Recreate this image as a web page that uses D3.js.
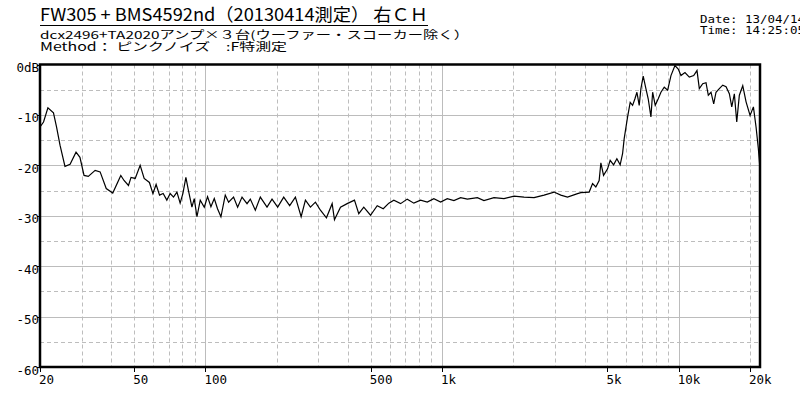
<!DOCTYPE html>
<html>
<head>
<meta charset="utf-8">
<script src="https://cdn.jsdelivr.net/npm/d3@7/dist/d3.min.js"></script>
<style>
  html, body { margin: 0; padding: 0; background: #fff; overflow: hidden; }
  svg { display: block; }
</style>
</head>
<body>
<svg id="chart" width="800" height="400"></svg>
<script>
// ---- data ----
const freqs = [20,20.7,21.6,22.8,23.5,24.3,25.5,26.8,28.4,29.5,30.7,32.0,34.2,35.9,38.1,40.6,43.9,45.3,47.3,48.5,50.5,53.0,55.1,58.0,60.0,61.9,64.0,66.3,68.7,71.0,73.3,75.8,78.2,80.3,82.7,84.8,87.7,89.7,92.1,95.1,98.9,102.1,105.5,109.0,112.5,116.3,121.3,125.3,131.5,136.8,142.8,149.9,
  154.8,162.5,170.6,182.1,191.2,202,214.2,227,240,253.8,264.6,277.8,291.6,306.2,324.6,343.2,351,372.2,397.2,426.4,444.6,466.8,498.4,532,564.2,595.8,625.4,667.8,712.6,760,811,866,923,986,1052,1122,1198,1279,1410,1503,1657,1827,2014,2220,2448,2698,2974,3174,3388,3736,3858,4184,
  4324,4464,4610,4688,4812,5004,5132,5306,5478,5656,5790,5882,6080,6236,6384,6530,6658,6808,6922,7078,7266,7430,7630,7758,7956,8192,8410,8686,8978,9272,9638,9954,10220,10626,11082,11568,11946,12218,12630,13040,13336,13690,14054,14372,14844,15344,15848,16364,16752,17180,17584,18036,18644,19254,20020,20680,21220,21700,22050];
const levels = [-12.4,-11.4,-8.6,-9.6,-12.4,-16.0,-20.2,-19.8,-17.4,-18.4,-22,-22.2,-21,-21.3,-24.6,-25.5,-22,-23,-24,-22.4,-22.6,-20,-22.6,-23.4,-25.6,-23.8,-25.9,-25.6,-26.9,-25.6,-26.3,-25.3,-27.5,-25.6,-22.4,-25,-28.3,-26.6,-30.2,-26.9,-28.3,-26.2,-28.2,-26.6,-28.6,-30.2,-25.9,-27.3,-26.3,-28.3,-26.3,-27.6,
  -26.7,-28.9,-26.3,-28.3,-26.7,-28.3,-26.3,-28,-26.3,-30.2,-26.9,-28.3,-27.3,-28.9,-30.4,-27.6,-30.8,-28.3,-27.6,-26.9,-29.6,-28.3,-29.9,-28,-28.6,-27.5,-26.9,-27.6,-26.7,-27.5,-26.9,-27.3,-26.6,-27.3,-26.6,-27,-26.4,-26.7,-26.4,-27,-26.4,-26.6,-26.1,-26.3,-26.4,-25.9,-25.3,-25.9,-26.3,-25.6,-25.4,-25.3,
  -23.6,-24.3,-23,-19.5,-22,-20.7,-19,-19.9,-18.7,-19.9,-17.7,-14.7,-10.4,-7.5,-8.1,-6.8,-5.5,-8.1,-4.8,-2.3,-4.8,-6.8,-10.4,-5.5,-8.1,-6.8,-5.5,-4.5,-5.1,-2.2,-0.2,-0.9,-2.2,-1.6,-2.5,-2.2,-1.2,-4.8,-3.8,-3.6,-6.1,-5.5,-7.8,-5.5,-4.8,-4.1,-4.4,-5.8,-8.4,-5.8,-11.4,-6.1,-4.2,-7.4,-10.1,-8.4,-12.4,-16.7,-20.7];

const xLabelFreqs = [20, 50, 100, 500, 1000, 5000, 10000, 20000];
const xLabelTexts = ["20", "50", "100", "500", "1k", "5k", "10k", "20k"];
const xSolidGrid = [100, 1000, 10000];
const xDashedGrid = [30,40,50,60,70,80,90,200,300,400,500,600,700,800,900,2000,3000,4000,5000,6000,7000,8000,9000,20000];
const yMajor = [-10, -20, -30, -40, -50];
const yMinor = [-5, -15, -25, -35, -45, -55];
const yLabelValues = [0, -10, -20, -30, -40, -50, -60];
const yLabelTexts = ["0dB", "-10", "-20", "-30", "-40", "-50", "-60"];

const titleText = "FW305 + BMS4592nd（20130414測定） 右ＣＨ";
const subText1 = "dcx2496+TA2020アンプ×３台(ウーファー・スコーカー除く）";
const subText2 = "Method： ピンクノイズ　:F特測定";
const dateText = "Date: 13/04/14";
const timeText = "Time: 14:25:05";

// ---- layout ----
const L = 40, R = 760, T = 64.5, B = 367;
const svg = d3.select("#chart");
const x = d3.scaleLog().domain([20, 22050]).range([L, R]);
const y = d3.scaleLinear().domain([-60, 0]).range([B, T]);

const mono = "'DejaVu Sans Mono', 'Liberation Mono', monospace";
const cjk = "'Noto Sans CJK JP', 'Noto Sans', sans-serif";

// grid
const g = svg.append("g");
g.selectAll(".vd").data(xDashedGrid).join("line")
  .attr("x1", d => Math.round(x(d)) + 0.5).attr("x2", d => Math.round(x(d)) + 0.5)
  .attr("y1", T).attr("y2", B)
  .attr("stroke", "#bdbdbd").attr("stroke-width", 1).attr("stroke-dasharray", "4,3");
g.selectAll(".hd").data(yMinor).join("line")
  .attr("x1", L).attr("x2", R)
  .attr("y1", d => Math.round(y(d)) + 0.5).attr("y2", d => Math.round(y(d)) + 0.5)
  .attr("stroke", "#bdbdbd").attr("stroke-width", 1).attr("stroke-dasharray", "4,3");
g.selectAll(".vs").data(xSolidGrid).join("line")
  .attr("x1", d => Math.round(x(d)) + 0.5).attr("x2", d => Math.round(x(d)) + 0.5)
  .attr("y1", T).attr("y2", B)
  .attr("stroke", "#bcbcbc").attr("stroke-width", 1);
g.selectAll(".hs").data(yMajor).join("line")
  .attr("x1", L).attr("x2", R)
  .attr("y1", d => Math.round(y(d)) + 0.5).attr("y2", d => Math.round(y(d)) + 0.5)
  .attr("stroke", "#bcbcbc").attr("stroke-width", 1);

// curve
const pts = freqs.map((f, i) => [f, levels[i]]);
svg.append("path")
  .datum(pts)
  .attr("fill", "none").attr("stroke", "#000").attr("stroke-width", 1.2)
  .attr("stroke-linejoin", "miter")
  .attr("d", d3.line().x(d => x(d[0])).y(d => y(d[1])));

// frame
svg.append("rect").attr("x", L).attr("y", T).attr("width", R - L).attr("height", B - T)
  .attr("fill", "none").attr("stroke", "#000").attr("stroke-width", 2.5);

// ticks
svg.selectAll(".xt").data(xLabelFreqs).join("line")
  .attr("x1", d => Math.round(x(d)) + 0.5).attr("x2", d => Math.round(x(d)) + 0.5)
  .attr("y1", B).attr("y2", B + 5).attr("stroke", "#000").attr("stroke-width", 1);
svg.selectAll(".yt").data(yLabelValues).join("line")
  .attr("x1", L - 3).attr("x2", L)
  .attr("y1", d => Math.round(y(d)) + 0.5).attr("y2", d => Math.round(y(d)) + 0.5)
  .attr("stroke", "#000").attr("stroke-width", 1);

// axis labels
svg.selectAll(".xl").data(xLabelFreqs).join("text")
  .attr("x", d => x(d) - 1).attr("y", 384)
  .attr("font-family", mono).attr("font-size", 12.5).attr("fill", "#000")
  .text((d, i) => xLabelTexts[i]);
svg.selectAll(".yl").data(yLabelValues).join("text")
  .attr("x", 39).attr("y", d => y(d) + 7.5)
  .attr("text-anchor", "end")
  .attr("font-family", mono).attr("font-size", 12.5).attr("fill", "#000")
  .text((d, i) => yLabelTexts[i]);

// header texts
svg.append("text").attr("x", 40).attr("y", 21)
  .attr("font-family", cjk).attr("font-size", 17.5).attr("fill", "#000")
  .attr("textLength", 388).attr("lengthAdjust", "spacingAndGlyphs")
  .text(titleText);
svg.append("line").attr("x1", 40).attr("x2", 428).attr("y1", 25.5).attr("y2", 25.5)
  .attr("stroke", "#000").attr("stroke-width", 1);

svg.append("text").attr("x", 40).attr("y", 38.5)
  .attr("font-family", cjk).attr("font-size", 11).attr("fill", "#000")
  .attr("textLength", 429).attr("lengthAdjust", "spacingAndGlyphs")
  .text(subText1);
svg.append("text").attr("x", 40).attr("y", 51)
  .attr("font-family", cjk).attr("font-size", 11.5).attr("fill", "#000")
  .attr("textLength", 247).attr("lengthAdjust", "spacingAndGlyphs")
  .text(subText2);

svg.append("text").attr("x", 700).attr("y", 22.5)
  .attr("font-family", mono).attr("font-size", 10.5).attr("fill", "#000")
  .attr("textLength", 105).attr("lengthAdjust", "spacingAndGlyphs")
  .text(dateText);
svg.append("text").attr("x", 700).attr("y", 33.5)
  .attr("font-family", mono).attr("font-size", 10.5).attr("fill", "#000")
  .attr("textLength", 105).attr("lengthAdjust", "spacingAndGlyphs")
  .text(timeText);
</script>
</body>
</html>
